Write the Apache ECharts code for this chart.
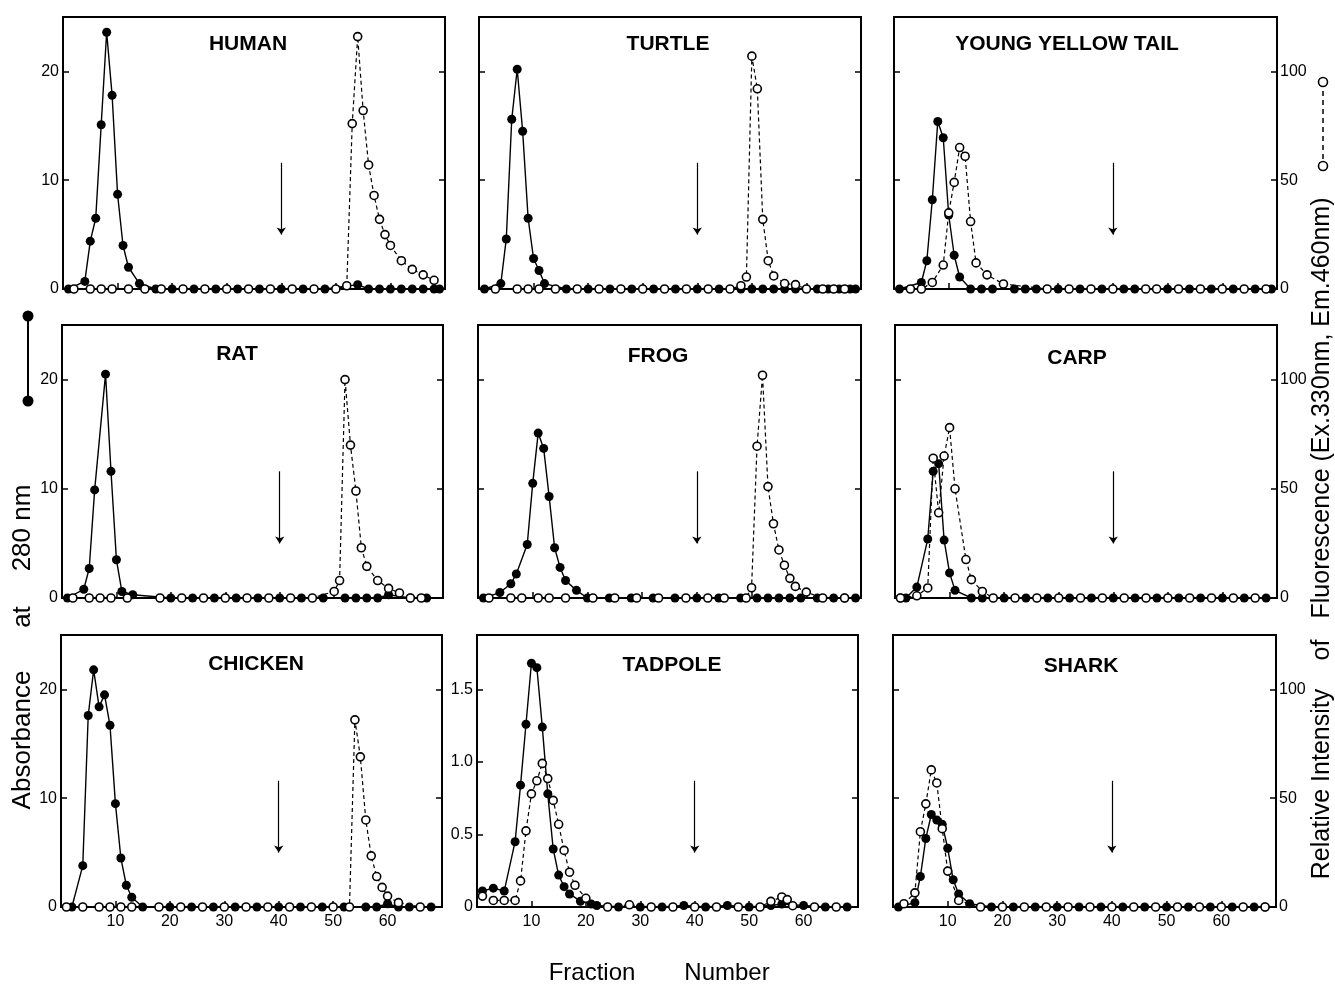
<!DOCTYPE html>
<html><head><meta charset="utf-8">
<script src="https://cdn.jsdelivr.net/npm/echarts@6/dist/echarts.min.js"></script>
<style>html,body{margin:0;padding:0;background:#fff}#c{width:1335px;height:984px}</style>
</head><body><div id="c"></div>
<script>
// ---------- DATA ----------
const panelNames = ['HUMAN','TURTLE','YOUNG YELLOW TAIL','RAT','FROG','CARP','CHICKEN','TADPOLE','SHARK'];
const fractionTicks = [10,20,30,40,50,60];
// arrow marking fraction 40 (drawn on the fluorescence axis scale)
const arrowFraction = 40, arrowTop = 58, arrowBottom = 25;

// [fraction, absorbance] (filled circles, left axis) and [fraction, fluorescence] (open circles, right axis)
const humanAbs = [[1,0],[4,0.7],[5,4.4],[6,6.5],[7,15.1],[8,23.6],[9,17.8],[10,8.7],[11,4.0],[12,2.0],[14,0.5],[17,0],[20,0],[24,0],[28,0],[32,0],[36,0],[40,0],[44,0],[48,0],[54,0.4],[56,0],[58,0],[60,0],[62,0],[64,0],[66,0],[68,0],[69,0]];
const humanFluor = [[2,0],[5,0],[7,0],[9,0],[12,0],[15,0],[18,0],[22,0],[26,0],[30,0],[34,0],[38,0],[42,0],[46,0],[50,0],[52,1.5],[53,76],[54,116],[55,82],[56,57],[57,43],[58,32],[59,25],[60,20],[62,13],[64,9],[66,6.5],[68,4]];

const turtleAbs = [[1,0],[4,0.5],[5,4.6],[6,15.6],[7,20.2],[8,14.5],[9,6.5],[10,2.8],[11,1.7],[12,0.5],[16,0],[20,0],[24,0],[28,0],[32,0],[36,0],[40,0],[44,0],[48,0],[50,0],[52,0],[54,0],[56,0],[58,0],[62,0],[64,0],[66,0],[68,0],[69,0]];
const turtleFluor = [[3,0],[7,0],[9,0],[11,0],[14,0],[18,0],[22,0],[26,0],[30,0],[34,0],[38,0],[42,0],[46,0],[48,1.5],[49,5.5],[50,107],[51,92],[52,32],[53,13],[54,6],[56,2.5],[58,2],[60,0],[63,0],[65,0],[67,0]];

const yytAbs = [[1,0],[5,0.6],[6,2.6],[7,8.2],[8,15.4],[9,13.9],[10,6.8],[11,3.1],[12,1.1],[14,0],[16,0],[18,0],[22,0],[24,0],[26,0],[30,0],[34,0],[38,0],[42,0],[44,0],[50,0],[54,0],[58,0],[62,0],[66,0],[69,0]];
const yytFluor = [[3,0],[5,0],[7,3],[9,11],[10,35],[11,49],[12,65],[13,61],[14,31],[15,12],[17,6.5],[20,2.3],[28,0],[32,0],[36,0],[40,0],[46,0],[48,0],[52,0],[56,0],[60,0],[64,0],[68,0]];

const ratAbs = [[1,0],[4,0.8],[5,2.7],[6,9.9],[8,20.5],[9,11.6],[10,3.5],[11,0.6],[13,0.3],[20,0],[24,0],[28,0],[32,0],[36,0],[40,0],[44,0],[48,0],[52,0],[54,0],[56,0],[58,0],[60,0.3],[64,0],[67,0]];
const ratFluor = [[2,0],[5,0],[7,0],[9,0],[12,0],[18,0],[22,0],[26,0],[30,0],[34,0],[38,0],[42,0],[46,0],[50,3],[51,8],[52,100],[53,70],[54,49],[55,23],[56,14.5],[58,8],[60,4.4],[62,2.3],[64,0],[66,0]];

const frogAbs = [[1,0],[4,0.5],[6,1.3],[7,2.2],[9,4.9],[10,10.5],[11,15.1],[12,13.7],[13,9.3],[14,4.6],[15,2.8],[16,1.6],[18,0.7],[20,0],[24,0],[28,0],[32,0],[36,0],[40,0],[44,0],[48,0],[51,0],[53,0],[55,0],[57,0],[59,0],[62,0],[65,0],[67,0],[69,0]];
const frogFluor = [[2,0],[6,0],[8,0],[11,0],[13,0],[16,0],[21,0],[25,0],[29,0],[33,0],[38,0],[42,0],[45,0],[49,0],[50,4.7],[51,69.5],[52,102],[53,51],[54,34],[55,22],[56,15],[57,9],[58,5.3],[60,2.7],[63,0],[67,0]];

const carpAbs = [[1,0],[2,0],[4,1.0],[6,5.4],[7,11.6],[8,12.3],[9,5.3],[10,2.3],[11,0.7],[14,0],[16,0],[20,0],[24,0],[28,0],[32,0],[36,0],[40,0],[44,0],[48,0],[52,0],[56,0],[60,0],[64,0],[68,0]];
const carpFluor = [[1,0],[4,1],[6,4.6],[7,64],[8,39],[9,65],[10,78],[11,50],[13,17.6],[14,8.4],[16,3],[18,0],[22,0],[26,0],[30,0],[34,0],[38,0],[42,0],[46,0],[50,0],[54,0],[58,0],[62,0],[66,0]];

const chickenAbs = [[2,0],[4,3.8],[5,17.6],[6,21.8],[7,18.4],[8,19.5],[9,16.7],[10,9.5],[11,4.5],[12,2.0],[13,0.9],[15,0],[20,0],[24,0],[28,0],[32,0],[36,0],[40,0],[44,0],[48,0],[52,0],[56,0],[58,0],[60,0.3],[62,0],[64,0],[68,0]];
const chickenFluor = [[1,0],[4,0],[7,0],[9,0],[11,0],[13,0],[18,0],[22,0],[26,0],[30,0],[34,0],[38,0],[42,0],[46,0],[50,0],[53,0],[54,86],[55,69],[56,40],[57,23.5],[58,14],[59,9],[60,5],[62,2],[66,0]];

const tadpoleAbs = [[1,0.11],[3,0.13],[5,0.11],[7,0.45],[8,0.84],[9,1.26],[10,1.68],[11,1.65],[12,1.24],[13,0.78],[14,0.40],[15,0.22],[16,0.14],[17,0.09],[19,0.04],[21,0.02],[22,0.01],[26,0],[30,0],[34,0],[38,0.01],[42,0],[46,0.01],[50,0],[54,0.01],[56,0.02],[60,0.01],[64,0],[68,0]];
const tadpoleFluor = [[1,5],[3,3],[5,3],[7,3],[8,12],[9,35],[10,52],[11,58],[12,66],[13,59],[14,49],[15,38],[16,26],[17,16],[18,10],[20,4],[24,0],[28,1],[32,0],[36,0],[40,0],[44,0],[48,0],[52,0],[54,2.6],[56,4.6],[57,3.4],[58,0.6],[62,0],[66,0]];

const sharkAbs = [[1,0],[4,0.4],[5,2.8],[6,6.3],[7,8.5],[8,8.0],[9,7.6],[10,5.4],[11,2.5],[12,1.2],[14,0.3],[18,0],[22,0],[26,0],[30,0],[34,0],[38,0],[42,0],[46,0],[50,0],[54,0],[58,0],[62,0],[66,0],[68,0]];
const sharkFluor = [[2,1.5],[4,6.5],[5,34.6],[6,47.4],[7,63],[8,57],[9,36],[10,16.5],[12,3],[16,0],[20,0],[24,0],[28,0],[32,0],[36,0],[40,0],[44,0],[48,0],[52,0],[56,0],[60,0],[64,0],[68,0]];

const absSeries = [humanAbs, turtleAbs, yytAbs, ratAbs, frogAbs, carpAbs, chickenAbs, tadpoleAbs, sharkAbs];
const fluorSeries = [humanFluor, turtleFluor, yytFluor, ratFluor, frogFluor, carpFluor, chickenFluor, tadpoleFluor, sharkFluor];

// axis extents
const absMax = 25, tadpoleAbsMax = 1.875, fluorMax = 125, fracMin = 0, fracMax = 70;

// ---------- LAYOUT ----------
const FONT = '"Liberation Sans", Arial, sans-serif';
const gridBox = [ // [left, top, width, height]
  [63,17,382,272],[479,17,382,272],[894,17,383,272],
  [62,325,381,273],[478,325,383,273],[895,325,382,273],
  [61,635,381,272],[477,635,381,272],[893,635,383,272]
];
const titlePos = [[248,44],[668,44],[1067,44],[237,354],[658,356],[1077,358],[256,664],[672,665],[1081,666]];

const grid = [], xAxis = [], yAxis = [], series = [], graphic = [];
const blk = '#000';

panelNames.forEach((name, i) => {
  const r = Math.floor(i / 3), c = i % 3;
  const isTad = name === 'TADPOLE';
  const g = gridBox[i];
  grid.push({left: g[0], top: g[1], width: g[2], height: g[3], show: true, borderColor: blk, borderWidth: 2, backgroundColor: 'transparent'});
  xAxis.push({
    type: 'value', gridIndex: i, min: fracMin, max: fracMax, interval: 10,
    axisLine: {show: true, lineStyle: {color: blk, width: 2}},
    axisTick: {show: true, inside: true, length: 6, lineStyle: {color: blk, width: 1.5}},
    axisLabel: {show: r === 2, margin: 7, color: blk, fontSize: 16, fontFamily: FONT,
      formatter: v => fractionTicks.includes(v) ? String(v) : ''},
    splitLine: {show: false}
  });
  const lmax = isTad ? tadpoleAbsMax : absMax;
  yAxis.push({
    type: 'value', gridIndex: i, position: 'left', min: 0, max: lmax, interval: isTad ? 0.5 : 10,
    axisLine: {show: true, lineStyle: {color: blk, width: 2}},
    axisTick: {show: true, inside: true, length: 6, lineStyle: {color: blk, width: 1.5}},
    axisLabel: {show: c === 0 || isTad, margin: 4, color: blk, fontSize: 16, fontFamily: FONT,
      formatter: v => {
        if (v >= lmax - 1e-9) return '';
        if (v === 0) return '0';
        return isTad ? v.toFixed(1) : String(v);
      }},
    splitLine: {show: false}
  });
  yAxis.push({
    type: 'value', gridIndex: i, position: 'right', min: 0, max: fluorMax, interval: 50,
    axisLine: {show: true, lineStyle: {color: blk, width: 2}},
    axisTick: {show: true, inside: true, length: 6, lineStyle: {color: blk, width: 1.5}},
    axisLabel: {show: c === 2, margin: 3, color: blk, fontSize: 16, fontFamily: FONT,
      formatter: v => v >= fluorMax ? '' : String(v)},
    splitLine: {show: false}
  });
  series.push({
    type: 'line', xAxisIndex: i, yAxisIndex: 2 * i, data: absSeries[i], z: 2,
    symbol: 'circle', symbolSize: 9, showSymbol: true,
    lineStyle: {color: blk, width: 1.4, type: 'solid'},
    itemStyle: {color: blk, borderColor: blk, borderWidth: 0},
    emphasis: {disabled: true}, animation: false
  });
  series.push({
    type: 'line', xAxisIndex: i, yAxisIndex: 2 * i + 1, data: fluorSeries[i], z: 3,
    symbol: 'circle', symbolSize: 8, showSymbol: true,
    lineStyle: {color: blk, width: 1.2, type: [4, 3]},
    itemStyle: {color: '#fff', borderColor: blk, borderWidth: 1.6},
    emphasis: {disabled: true}, animation: false,
    markLine: {
      silent: true, animation: false, symbol: ['none', 'arrow'], symbolSize: 7,
      label: {show: false},
      itemStyle: {color: blk},
      lineStyle: {color: blk, width: 1.2, type: 'solid'},
      emphasis: {disabled: true},
      data: [[{coord: [arrowFraction, arrowTop]}, {coord: [arrowFraction, arrowBottom]}]]
    }
  });
  graphic.push({type: 'text', x: titlePos[i][0], y: titlePos[i][1], z: 10,
    style: {text: name, fill: blk, font: 'bold 21px ' + FONT, align: 'center', verticalAlign: 'middle', textAlign: 'center', textVerticalAlign: 'middle'}});
});

function vtext(t, x, y, size) {
  return {type: 'text', x: x, y: y, rotation: Math.PI / 2, z: 10,
    style: {text: t, fill: blk, font: size + 'px ' + FONT, align: 'center', verticalAlign: 'middle', textAlign: 'center', textVerticalAlign: 'middle'}};
}
function htext(t, x, y, size) {
  return {type: 'text', x: x, y: y, z: 10,
    style: {text: t, fill: blk, font: size + 'px ' + FONT, align: 'center', verticalAlign: 'middle', textAlign: 'center', textVerticalAlign: 'middle'}};
}
// axis titles
graphic.push(vtext('Absorbance', 23, 740, 26));
graphic.push(vtext('at', 23, 617, 26));
graphic.push(vtext('280 nm', 23, 528, 26));
graphic.push(vtext('Relative Intensity', 1322, 784, 25));
graphic.push(vtext('of', 1322, 650, 25));
graphic.push(vtext('Fluorescence (Ex.330nm, Em.460nm)', 1322, 408, 25));
graphic.push(htext('Fraction', 592, 973, 24));
graphic.push(htext('Number', 727, 973, 24));
// legend glyphs
graphic.push({type: 'line', shape: {x1: 28, y1: 316, x2: 28, y2: 401}, style: {stroke: blk, lineWidth: 2}, z: 10});
graphic.push({type: 'circle', shape: {cx: 28, cy: 316, r: 5.5}, style: {fill: blk}, z: 11});
graphic.push({type: 'circle', shape: {cx: 28, cy: 401, r: 5.5}, style: {fill: blk}, z: 11});
graphic.push({type: 'line', shape: {x1: 1323, y1: 82, x2: 1323, y2: 166}, style: {stroke: blk, lineWidth: 1.5, lineDash: [5, 4]}, z: 10});
graphic.push({type: 'circle', shape: {cx: 1323, cy: 82, r: 4.5}, style: {fill: '#fff', stroke: blk, lineWidth: 1.6}, z: 11});
graphic.push({type: 'circle', shape: {cx: 1323, cy: 166, r: 4.5}, style: {fill: '#fff', stroke: blk, lineWidth: 1.6}, z: 11});

const chart = echarts.init(document.getElementById('c'), null, {renderer: 'canvas'});
chart.setOption({animation: false, backgroundColor: '#fff', grid, xAxis, yAxis, series, graphic});
</script></body></html>
